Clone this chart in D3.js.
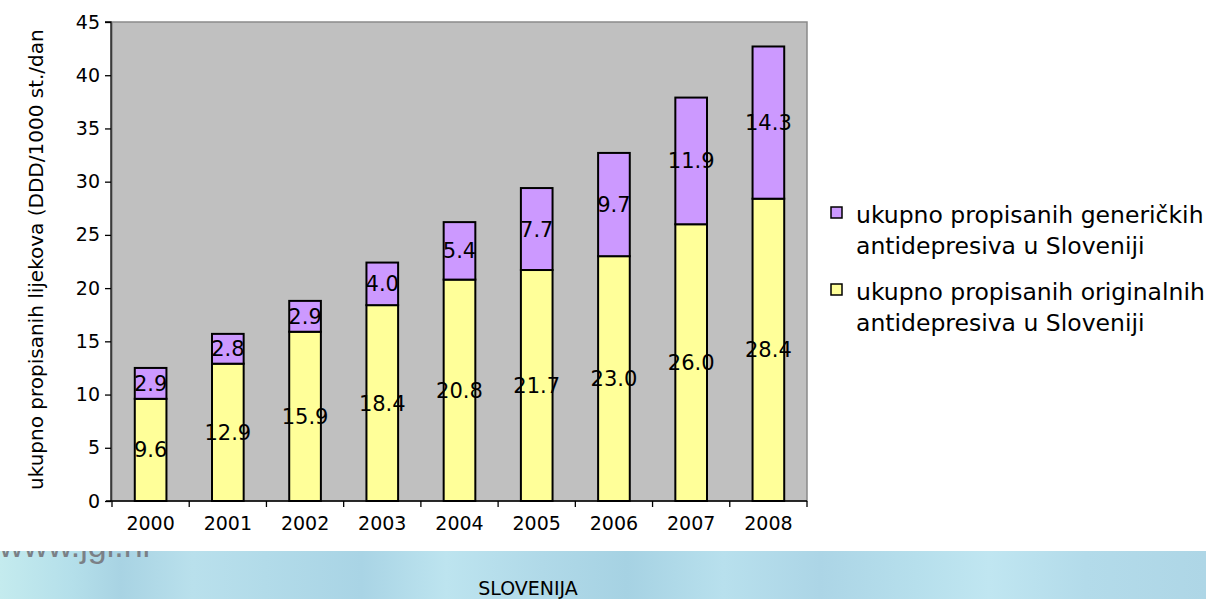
<!DOCTYPE html>
<html>
<head>
<meta charset="utf-8">
<script src="https://cdn.jsdelivr.net/npm/d3@7"></script>
<style>
  body { margin: 0; background: #fff; }
  svg { display: block; }
  text { font-family: "DejaVu Sans", Verdana, sans-serif; }
</style>
</head>
<body>
<svg id="chart" width="1206" height="599"></svg>
<script>
// data
const years = ["2000", "2001", "2002", "2003", "2004", "2005", "2006", "2007", "2008"];
const originalValues = [9.6, 12.9, 15.9, 18.4, 20.8, 21.7, 23.0, 26.0, 28.4];
const genericValues = [2.9, 2.8, 2.9, 4.0, 5.4, 7.7, 9.7, 11.9, 14.3];
const yTicks = [0, 5, 10, 15, 20, 25, 30, 35, 40, 45];
const legendItems = [
  ["ukupno propisanih generičkih", "antidepresiva u Sloveniji"],
  ["ukupno propisanih originalnih", "antidepresiva u Sloveniji"]
];

const svg = d3.select("#chart");
const W = 1206, H = 599;
const plot = { left: 112, right: 807, top: 22, bottom: 501 };

// blue band at the bottom
const defs = svg.append("defs");
const grad = defs.append("linearGradient").attr("id", "band")
  .attr("x1", 0).attr("x2", 1).attr("y1", 0).attr("y2", 0);
[[0, "#c4ebee"], [0.06, "#b4dfea"], [0.1, "#a8d3e3"], [0.16, "#b9e0ec"], [0.22, "#b2dbe9"],
 [0.3, "#a9d4e5"], [0.37, "#bde4ef"], [0.45, "#b0d9e8"], [0.52, "#a6d2e3"], [0.6, "#b8e0ed"],
 [0.68, "#acd5e6"], [0.76, "#b6dfec"], [0.82, "#c0e6f1"], [0.9, "#b3dbea"], [1, "#aed6e6"]]
  .forEach(([o, c]) => grad.append("stop").attr("offset", o).attr("stop-color", c));
svg.append("rect").attr("x", 0).attr("y", 551).attr("width", W).attr("height", H - 551)
  .attr("fill", "url(#band)");

defs.append("clipPath").attr("id", "bandClip")
  .append("rect").attr("x", 0).attr("y", 551).attr("width", W).attr("height", H - 551);
svg.append("text")
  .attr("x", -1).attr("y", 557)
  .attr("clip-path", "url(#bandClip)")
  .style("font-family", "'Liberation Sans', Arial, sans-serif")
  .style("font-size", "34px")
  .attr("fill", "#7b8086")
  .text("www.jgl.hr");

svg.append("text")
  .attr("x", 528).attr("y", 595)
  .attr("text-anchor", "middle")
  .style("font-size", "19px")
  .attr("fill", "#000")
  .text("SLOVENIJA");

// scales
const x = d3.scaleBand().domain(years).range([plot.left, plot.right]).paddingInner(0.59).paddingOuter(0.295);
const xOuter = d3.scaleBand().domain(years).range([plot.left, plot.right]);
const y = d3.scaleLinear().domain([0, 45]).range([plot.bottom, plot.top]);

// plot background
svg.append("rect")
  .attr("x", plot.left).attr("y", plot.top)
  .attr("width", plot.right - plot.left).attr("height", plot.bottom - plot.top)
  .attr("fill", "#c0c0c0")
  .attr("stroke", "#8a8a8a").attr("stroke-width", 1.5);

// stacked bars
const rows = years.map((yr, i) => ({ year: yr, orig: originalValues[i], gen: genericValues[i] }));
const g = svg.append("g");
g.selectAll(".orig").data(rows).enter().append("rect")
  .attr("class", "orig")
  .attr("x", d => x(d.year)).attr("width", x.bandwidth())
  .attr("y", d => y(d.orig)).attr("height", d => y(0) - y(d.orig))
  .attr("fill", "#ffff99").attr("stroke", "#000").attr("stroke-width", 2);
g.selectAll(".gen").data(rows).enter().append("rect")
  .attr("class", "gen")
  .attr("x", d => x(d.year)).attr("width", x.bandwidth())
  .attr("y", d => y(d.orig + d.gen)).attr("height", d => y(d.orig) - y(d.orig + d.gen))
  .attr("fill", "#cc99ff").attr("stroke", "#000").attr("stroke-width", 2);

// value labels
const lab = svg.append("g").style("font-size", "21px").attr("text-anchor", "middle").attr("fill", "#000");
rows.forEach(d => {
  const cx = x(d.year) + x.bandwidth() / 2;
  lab.append("text").attr("x", cx).attr("y", y(d.orig / 2)).attr("dy", "0.36em").text(d.orig.toFixed(1));
  lab.append("text").attr("x", cx).attr("y", y(d.orig + d.gen / 2)).attr("dy", "0.36em").text(d.gen.toFixed(1));
});

// y axis
const yAxis = svg.append("g").attr("transform", `translate(${plot.left - 1},0)`)
  .call(d3.axisLeft(y).tickValues(yTicks).tickSize(6).tickPadding(5));
yAxis.selectAll("text").style("font-size", "19px").attr("fill", "#000");
yAxis.selectAll("line, path").attr("stroke", "#000").attr("stroke-width", 1.3);
yAxis.select(".domain").attr("d", `M-6,${y(45)}H0V${y(0)}`);

// x axis, ticks on category edges
const xAxis = svg.append("g").attr("transform", `translate(0,${plot.bottom})`);
xAxis.append("line").attr("x1", plot.left - 6).attr("x2", plot.right)
  .attr("stroke", "#000").attr("stroke-width", 1.3);
xAxis.selectAll(".tk").data(years.concat(["end"])).enter().append("line")
  .attr("x1", (d, i) => i < years.length ? xOuter(d) : plot.right)
  .attr("x2", (d, i) => i < years.length ? xOuter(d) : plot.right)
  .attr("y1", 0).attr("y2", 6)
  .attr("stroke", "#000").attr("stroke-width", 1.3);
xAxis.selectAll(".lb").data(years).enter().append("text")
  .attr("x", d => xOuter(d) + xOuter.bandwidth() / 2)
  .attr("y", 29)
  .attr("text-anchor", "middle")
  .style("font-size", "19px")
  .text(d => d);

// y axis title, clipped at the top as in the picture
defs.append("clipPath").attr("id", "titleClip")
  .append("rect").attr("x", 0).attr("y", 31).attr("width", 80).attr("height", 520);
svg.append("g").attr("clip-path", "url(#titleClip)")
  .append("text")
  .attr("transform", "translate(43,490) rotate(-90)")
  .attr("text-anchor", "start")
  .style("font-size", "20px")
  .text("ukupno propisanih lijekova (DDD/1000 st./dan)");

// legend
const leg = svg.append("g");
legendItems.forEach((lines, i) => {
  const top = 207 + i * 77;
  leg.append("rect").attr("x", 831).attr("y", top).attr("width", 11).attr("height", 11)
    .attr("fill", i === 0 ? "#cc99ff" : "#ffff99")
    .attr("stroke", "#000").attr("stroke-width", 1.5);
  lines.forEach((t, j) => {
    leg.append("text").attr("x", 856).attr("y", top + 16 + j * 31)
      .style("font-size", "23.5px").text(t);
  });
});
</script>
</body>
</html>
